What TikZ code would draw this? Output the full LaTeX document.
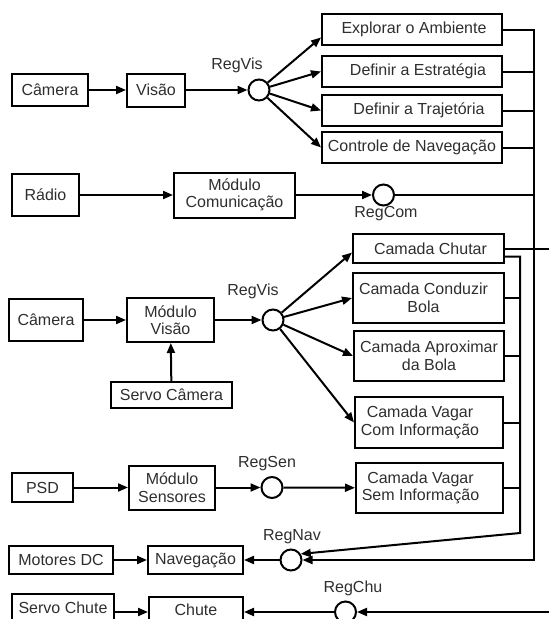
\documentclass[tikz,border=0pt]{standalone}
\usepackage{fontspec}
\setmainfont{Liberation Sans}
\usetikzlibrary{arrows.meta}
\begin{document}
\begin{tikzpicture}[x=1pt,y=-1pt,
  box/.style={draw, line width=2pt, inner sep=0pt, align=center,
    font=\fontsize{16}{17.5}\selectfont, text=black!82},
  reg/.style={draw, circle, line width=2pt, minimum size=21pt, inner sep=0pt, fill=white},
  lbl/.style={font=\fontsize{16}{17.5}\selectfont, text=black!82, inner sep=0pt},
  arr/.style={line width=2pt, -{Triangle[length=10pt,width=8pt]}},
  wire/.style={line width=2pt}]
\useasboundingbox (0,0) rectangle (549,619);
\clip (0,0) rectangle (549,619);

% ---------- top group ----------
\node[box, minimum width=76pt, minimum height=32pt] (cam1) at (50,90) {Câmera};
\node[box, minimum width=58pt, minimum height=33pt] (vis) at (156,90) {Visão};
\node[reg] (rv1) at (259,90) {};
\node[lbl] (lrv1) at (237,65) {RegVis};
\node[box, minimum width=180pt, minimum height=31pt] (ex) at (412,29.5) {\hspace*{4pt}Explorar o Ambiente};
\node[box, minimum width=180pt, minimum height=31pt] (es) at (412,71.5) {\hspace*{12pt}Definir a Estratégia};
\node[box, minimum width=180pt, minimum height=31pt] (tr) at (412,110.5) {\hspace*{14pt}Definir a Trajetória};
\node[box, minimum width=180pt, minimum height=31pt] (cn) at (412,147.5) {Controle de Navegação};

\node[box, minimum width=67pt, minimum height=42pt] (rad) at (45.5,195) {Rádio};
\node[box, minimum width=121pt, minimum height=45pt] (mc) at (234.5,195) {Módulo\\Comunicação};
\node[reg] (rcm) at (383.5,195) {};
\node[lbl] (lrcm) at (386,214) {RegCom};

% ---------- middle group ----------
\node[box, minimum width=74pt, minimum height=42pt] (cam2) at (46,320) {Câmera};
\node[box, minimum width=87pt, minimum height=44pt] (mv) at (170.5,320) {Módulo\\Visão};
\node[box, minimum width=121pt, minimum height=26pt] (svc) at (171.5,395) {Servo Câmera};
\node[reg] (rv2) at (273,320) {};
\node[lbl] (lrv2) at (253,291) {RegVis};

\node[box, minimum width=151pt, minimum height=29pt] (ch) at (428.5,248.5) {\hspace*{4pt}Camada Chutar};
\node[box, minimum width=151pt, minimum height=50pt] (cd) at (428.5,298) {\hspace*{-10pt}Camada Conduzir\\\hspace*{-10pt}Bola};
\node[box, minimum width=150pt, minimum height=50pt] (ap) at (429,356) {Camada Aproximar\\da Bola};
\node[box, minimum width=148pt, minimum height=51pt] (vc) at (429,422.5) {\hspace*{-18pt}Camada Vagar\\\hspace*{-18pt}Com Informação};

% ---------- sensors ----------
\node[box, minimum width=61pt, minimum height=29pt] (psd) at (42.5,487.5) {PSD};
\node[box, minimum width=86pt, minimum height=44pt] (ms) at (172,487.5) {Módulo\\Sensores};
\node[reg] (rs) at (272,487.5) {};
\node[lbl] (lrs) at (267,464) {RegSen};
\node[box, minimum width=147pt, minimum height=50pt] (vs) at (429.5,488) {\hspace*{-18pt}Camada Vagar\\\hspace*{-18pt}Sem Informação};

% ---------- bottom ----------
\node[box, minimum width=104pt, minimum height=28pt] (mdc) at (61,560) {Motores DC};
\node[box, minimum width=95pt, minimum height=28pt] (nav) at (195.5,560) {Navegação};
\node[reg] (rn) at (291,560) {};
\node[lbl] (lrn) at (292,537) {RegNav};

\node[box, minimum width=102pt, minimum height=28pt] (svch) at (63,607.5) {Servo Chute};
\node[box, minimum width=94pt, minimum height=26pt] (chu) at (196,610) {Chute};
\node[reg] (rc) at (345.5,612) {};
\node[lbl] (lrc) at (353,588) {RegChu};

% bus coordinates
\coordinate (ob) at (534,560);
\coordinate (ib) at (520,533);
\coordinate (offr) at (575,430);

% ---------- connectors: top ----------
\draw[arr] (cam1) -- (vis);
\draw[arr] (vis) -- (rv1);
\draw[arr] (rv1) -- (ex.185);
\draw[arr] (rv1) -- (es.west);
\draw[arr] (rv1) -- (tr.west);
\draw[arr] (rv1) -- (cn.west);
\draw[arr] (rad) -- (mc);
\draw[arr] (mc) -- (rcm);

% outer bus
\draw[arr] (ex.east) -| (ob) -- (rn);
\draw[wire] (es.east) -- (es.east -| ob);
\draw[wire] (tr.east) -- (tr.east -| ob);
\draw[wire] (cn.east) -- (cn.east -| ob);
\draw[wire] (rcm) -- (rcm -| ob);

% ---------- connectors: middle ----------
\draw[arr] (cam2) -- (mv);
\draw[arr] (svc) -- (mv);
\draw[arr] (mv) -- (rv2);
\draw[arr] (rv2) -- (ch.183);
\draw[arr] (rv2) -- (cd.west);
\draw[arr] (rv2) -- (ap.west);
\draw[arr] (rv2) -- (vc.west);

% inner bus
\draw[arr] ([yshift=-8pt]ch.east) -| (ib) -- (rn.32);
\draw[wire] (cd.east) -- (cd.east -| ib);
\draw[wire] (ap.east) -- (ap.east -| ib);
\draw[wire] (vc.east) -- (vc.east -| ib);
\draw[wire] (vs.east) -- (vs.east -| ib);

% Chutar line leaving the picture and returning to RegChu
\draw[arr] (ch.east) -| (offr) |- (rc);

% ---------- connectors: sensors ----------
\draw[arr] (psd) -- (ms);
\draw[arr] (ms) -- (rs);
\draw[arr] (rs) -- (vs);

% ---------- connectors: bottom ----------
\draw[arr] (mdc) -- (nav);
\draw[arr] (rn) -- (nav);
\draw[arr] (rc.west) -- (chu.east |- rc);
\draw[arr] (svch.east |- rc) -- (chu.west |- rc);
\end{tikzpicture}
\end{document}
